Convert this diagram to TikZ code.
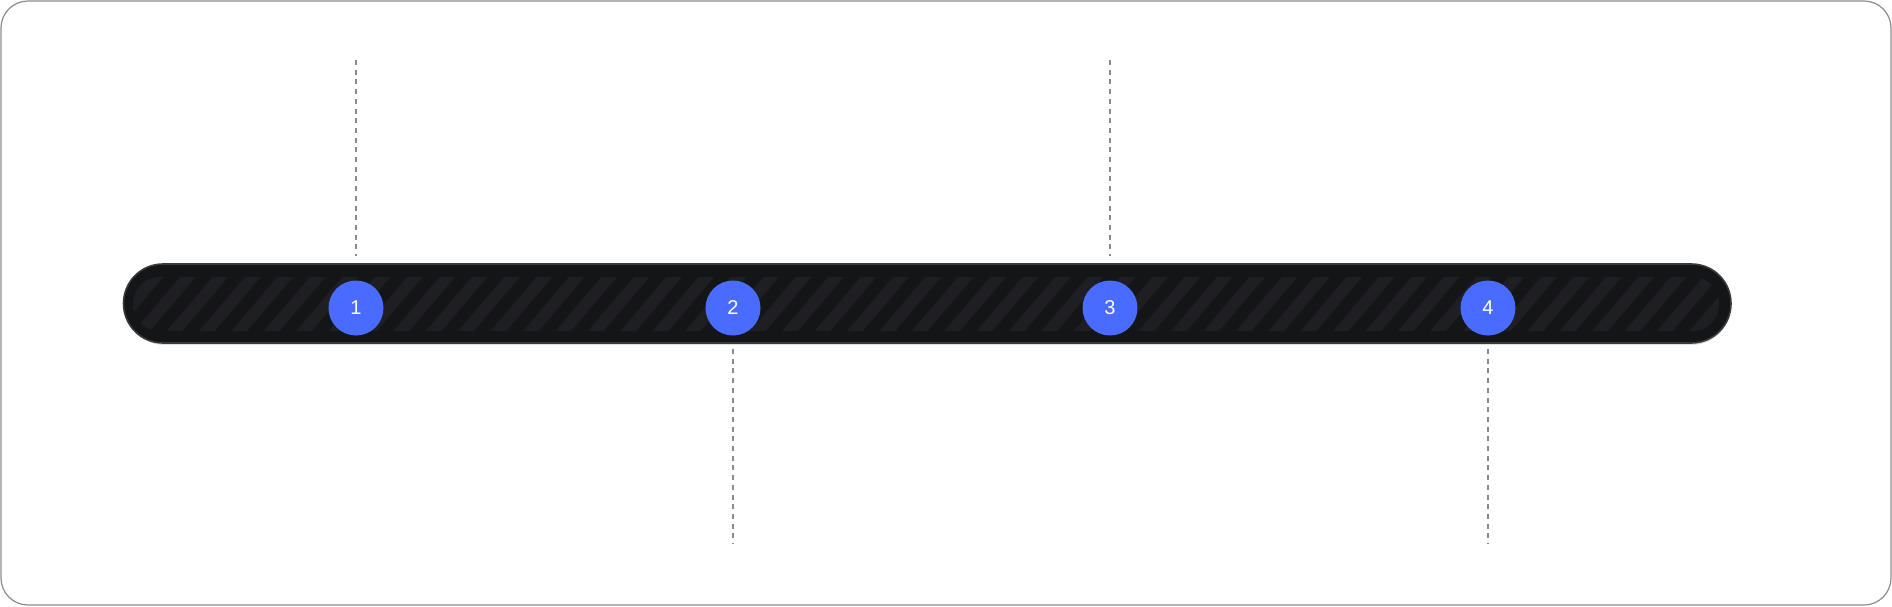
\documentclass[tikz,border=0pt]{standalone}
\usepackage{fontspec}
\setmainfont{Liberation Sans}
\definecolor{framegray}{HTML}{8C8C8C}
\definecolor{barfill}{HTML}{141516}
\definecolor{barline}{HTML}{3A3A3C}
\definecolor{stripe}{HTML}{1E1E23}
\definecolor{dotblue}{HTML}{4A6BFF}
\definecolor{dashgray}{HTML}{8A8A8A}
\tikzset{
  marker/.style={circle, fill=dotblue, minimum size=55pt, inner sep=0pt, text=white, font=\fontsize{20}{20}\selectfont},
  guide/.style={draw=dashgray, line width=1.2pt, dash pattern=on 5pt off 4.7pt},
}
\begin{document}
\begin{tikzpicture}[x=1pt,y=-1pt]
\useasboundingbox (0,0) rectangle (1892,606);
\fill[white] (0,0) rectangle (1892,606);
\draw[framegray, line width=1.2pt, rounded corners=27pt] (1,1) rectangle (1891,605);
% bar
\fill[black!12, rounded corners=39.5pt] (125,267) rectangle (1731,345);
\draw[barline, fill=barfill, line width=1.6pt, rounded corners=39.5pt] (123.5,264) rectangle (1731,343);
\begin{scope}
  \clip[rounded corners=26pt] (133,277) rectangle (1719,331);
  \foreach \k in {-12,...,40} {
    \pgfmathsetmacro{\c}{479.6+32.4*\k}
    \draw[stripe, line width=12pt] (\c+8.5,267) -- (\c-54.4,341);
  }
\end{scope}
% markers
\node[marker] (m1) at (356,308) {1};
\node[marker] (m2) at (733,308) {2};
\node[marker] (m3) at (1110,308) {3};
\node[marker] (m4) at (1488,308) {4};
% guide ends
\coordinate (t1) at (356,60);  \coordinate (b1) at (356,256);
\coordinate (t3) at (1110,60); \coordinate (b3) at (1110,256);
\coordinate (t2) at (733,349); \coordinate (b2) at (733,544);
\coordinate (t4) at (1488,349); \coordinate (b4) at (1488,544);
\draw[guide] (t1) -- (b1);
\draw[guide] (t3) -- (b3);
\draw[guide] (t2) -- (b2);
\draw[guide] (t4) -- (b4);
\end{tikzpicture}
\end{document}
